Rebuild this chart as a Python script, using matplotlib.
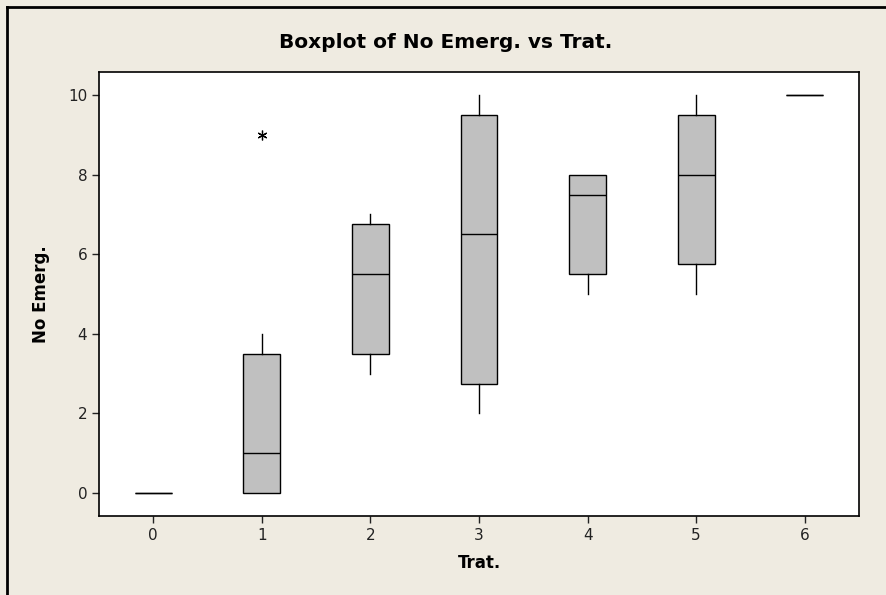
import matplotlib.pyplot as plt
from matplotlib.lines import Line2D

# Datos (Minitab boxplot)
trat = [0, 1, 2, 3, 4, 5, 6]
q1 = [0, 0, 3.5, 2.75, 5.5, 5.75, 10]
mediana = [0, 1, 5.5, 6.5, 7.5, 8, 10]
q3 = [0, 3.5, 6.75, 9.5, 8, 9.5, 10]
bigote_inf = [0, 0, 3, 2, 5, 5, 10]
bigote_sup = [0, 4, 7, 10, 8, 10, 10]
atipicos = [[], [9], [], [], [], [], []]

stats = []
for i in range(len(trat)):
    stats.append({
        "q1": q1[i], "med": mediana[i], "q3": q3[i],
        "whislo": bigote_inf[i], "whishi": bigote_sup[i],
        "fliers": atipicos[i], "label": str(trat[i]),
    })

fondo = "#EFEBE1"
fig = plt.figure(figsize=(8.86, 5.95), dpi=100, facecolor=fondo)
ax = fig.add_axes([99 / 886, 1 - 516 / 595, 760 / 886, 444 / 595])
ax.set_facecolor("white")

ax.bxp(stats, positions=trat, widths=0.34, patch_artist=True, showcaps=False,
       boxprops=dict(facecolor="#C0C0C0", edgecolor="black", linewidth=1),
       medianprops=dict(color="black", linewidth=1),
       whiskerprops=dict(color="black", linewidth=1),
       flierprops=dict(marker=(6, 2, 0), markersize=7, markeredgecolor="black",
                       markeredgewidth=0.9, linestyle="none"))

ax.set_xlim(-0.5, 6.5)
ax.set_ylim(-0.58, 10.58)
ax.set_yticks([0, 2, 4, 6, 8, 10])
ax.set_xticks(trat)
ax.set_xticklabels([str(t) for t in trat])
ax.tick_params(direction="out", length=5, width=1, labelsize=11, colors="#222222")
for s in ax.spines.values():
    s.set_linewidth(1.2)

ax.set_xlabel("Trat.", fontsize=12, fontweight="bold", labelpad=8)
ax.set_ylabel("No Emerg.", fontsize=12, fontweight="bold", labelpad=13)
fig.text(446 / 886, 1 - 42 / 595, "Boxplot of No Emerg. vs Trat.",
         ha="center", va="center", fontsize=14.5, fontweight="bold")

# marco de la captura (izquierda y arriba)
fig.add_artist(Line2D([7 / 886, 7 / 886], [0, 1 - 7 / 595], transform=fig.transFigure,
                      color="black", linewidth=2))
fig.add_artist(Line2D([7 / 886, 1], [1 - 7 / 595, 1 - 7 / 595], transform=fig.transFigure,
                      color="black", linewidth=2))

fig.savefig("out.png", dpi=100, facecolor=fondo)
